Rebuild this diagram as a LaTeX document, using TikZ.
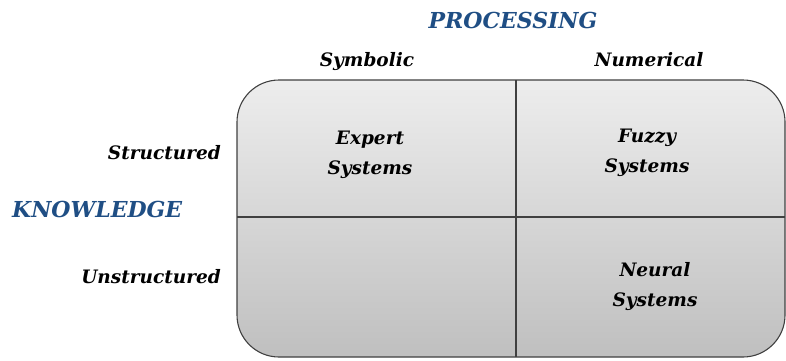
\documentclass[tikz,border=0pt]{standalone}
\usepackage{fontspec}
\setmainfont{DejaVu Serif}
\definecolor{headblue}{HTML}{1F4E84}
\definecolor{edge}{HTML}{404040}
\begin{document}
\begin{tikzpicture}[x=1pt,y=-1pt,
  lab/.style={font=\fontsize{18.5}{22}\selectfont\bfseries\itshape, inner sep=0pt},
  head/.style={font=\fontsize{22}{26}\selectfont\bfseries\itshape, text=headblue, inner sep=0pt},
  cell/.style={font=\fontsize{18.5}{30}\selectfont\bfseries\itshape, align=center, inner sep=0pt},
  grid/.style={draw=edge, line width=1.1pt}]
\useasboundingbox (0,0) rectangle (786,360);
\path[grid, top color=black!7, bottom color=black!25, rounded corners=42pt] (237,80) rectangle (785,357);
\coordinate (vt) at (516,80);
\coordinate (vb) at (516,357);
\coordinate (hl) at (237,217);
\coordinate (hr) at (785,217);
\draw[grid] (vt) -- (vb);
\draw[grid] (hl) -- (hr);
\node[head] (proc) at (513,20) {PROCESSING};
\node[head, anchor=west] (know) at (12,209) {KNOWLEDGE};
\node[lab] (sym) at (367,62) {Symbolic};
\node[lab] (num) at (649,60) {Numerical};
\node[lab, anchor=east] (str) at (221,153) {Structured};
\node[lab, anchor=east] (uns) at (221,277) {Unstructured};
\node[cell] (exp) at (370,155) {Expert\\Systems};
\node[cell] (fuz) at (647,153) {Fuzzy\\Systems};
\node[cell] (neu) at (655,287) {Neural\\Systems};
\end{tikzpicture}
\end{document}
